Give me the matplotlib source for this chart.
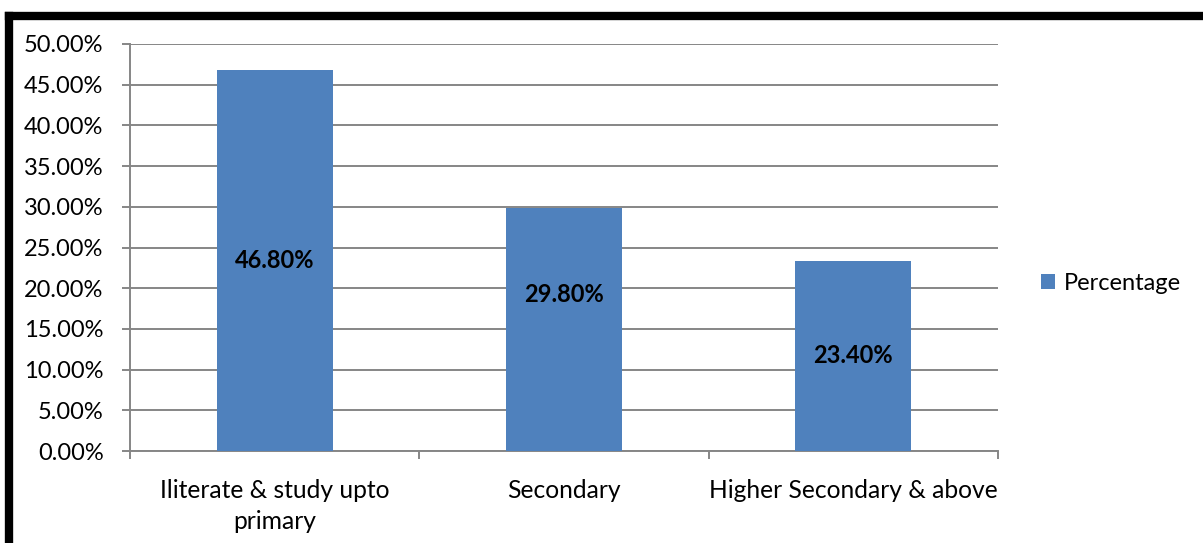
import matplotlib
matplotlib.use("Agg")
import matplotlib.pyplot as plt
from matplotlib.lines import Line2D
from matplotlib.ticker import FuncFormatter, MultipleLocator

categories = ["Iliterate & study upto\nprimary", "Secondary", "Higher Secondary & above"]
percentages = [46.80, 29.80, 23.40]
value_labels = ["46.80%", "29.80%", "23.40%"]
label_heights = [23.4, 19.2, 11.7]  # where the data labels sit on each bar

plt.rcParams["font.family"] = ["Lato", "DejaVu Sans"]
FS = 17

W, H = 1203, 543
fig = plt.figure(figsize=(W / 100, H / 100), dpi=100)
fig.patch.set_facecolor("white")

# plot area in pixels
left, right, top, bottom = 130, 998, 44, 451
ax = fig.add_axes([left / W, 1 - bottom / H, (right - left) / W, (bottom - top) / H])

grey = "#868686"
x = range(len(categories))
bars = ax.bar(x, percentages, width=0.4, color="#4F81BD", zorder=3, label="Percentage")

for xi, txt, yl in zip(x, value_labels, label_heights):
    ax.text(xi, yl, txt, ha="center", va="center", fontsize=FS, fontweight="bold",
            color="black", zorder=4)

ax.set_xlim(-0.5, len(categories) - 0.5)
ax.set_ylim(0, 50)
ax.yaxis.set_major_locator(MultipleLocator(5))
ax.yaxis.set_major_formatter(FuncFormatter(lambda v, p: f"{v:.2f}%"))
ax.grid(axis="y", color=grey, linewidth=1.4, zorder=0)

# category ticks sit between the bars
ax.set_xticks([i - 0.5 for i in range(len(categories) + 1)], minor=False)
ax.set_xticklabels([])
ax.set_xticks(list(x), minor=True)
ax.set_xticklabels(categories, minor=True, fontsize=17.7, linespacing=1.45)
ax.tick_params(axis="x", which="minor", length=0, pad=20)
ax.tick_params(axis="x", which="major", length=6, width=1.4, color=grey)
ax.tick_params(axis="y", length=6, width=1.4, color=grey, labelsize=FS, pad=13)

for s in ["top", "right"]:
    ax.spines[s].set_visible(False)
for s in ["left", "bottom"]:
    ax.spines[s].set_color(grey)
    ax.spines[s].set_linewidth(1.4)

fig.legend(handles=[bars], loc="center left", bbox_to_anchor=(1041 / W, 1 - 283 / H),
           frameon=False, fontsize=FS, handlelength=0.6, handleheight=0.6,
           handletextpad=0.35, borderpad=0, borderaxespad=0)

# thick black frame around the chart (only left and top visible)
fig.add_artist(Line2D([9 / W, 9 / W], [0, 1 - 16 / H], color="black", linewidth=6,
                      transform=fig.transFigure, solid_capstyle="projecting"))
fig.add_artist(Line2D([9 / W, 1], [1 - 16 / H, 1 - 16 / H], color="black", linewidth=6,
                      transform=fig.transFigure, solid_capstyle="projecting"))

fig.savefig("out.png", dpi=100)
